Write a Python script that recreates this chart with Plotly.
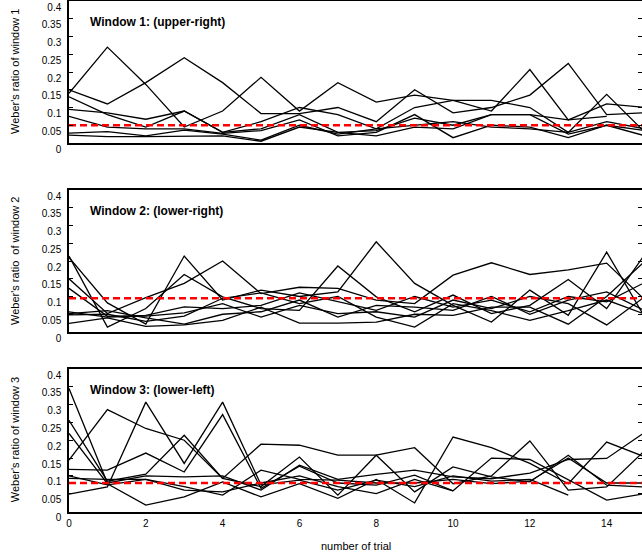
import plotly.graph_objects as go

trials = list(range(16))

# Window 1 (upper-right): Weber's ratio per subject
w1_s1 = [0.14, 0.27, 0.165, 0.045, 0.09, 0.185, 0.09, 0.17, 0.115, 0.135, 0.12, 0.09, 0.207, 0.065, 0.11, 0.1]
w1_s2 = [0.15, 0.11, 0.17, 0.24, 0.17, 0.083, 0.083, 0.1, 0.06, 0.15, 0.085, 0.1, 0.135, 0.224, 0.08, 0.085]
w1_s3 = [0.13, 0.08, 0.045, 0.09, 0.03, 0.06, 0.1, 0.08, 0.04, 0.1, 0.12, 0.12, 0.1, 0.03, 0.137, 0.03]
w1_s4 = [0.095, 0.085, 0.067, 0.09, 0.03, 0.04, 0.08, 0.03, 0.035, 0.07, 0.05, 0.08, 0.08, 0.025, 0.05, 0.02]
w1_s5 = [0.075, 0.045, 0.04, 0.04, 0.027, 0.035, 0.065, 0.02, 0.03, 0.08, 0.015, 0.05, 0.045, 0.015, 0.05, 0.035]
w1_s6 = [0.028, 0.032, 0.02, 0.036, 0.025, 0.008, 0.05, 0.025, 0.04, 0.05, 0.06, 0.045, 0.04, 0.03, 0.06, 0.04]
w1_s7 = [0.022, 0.018, 0.018, 0.02, 0.02, 0.005, 0.045, 0.03, 0.02, 0.045, 0.04, 0.08, 0.08, 0.065, 0.075, None]
w1_mean = 0.05

# Window 2 (lower-right)
w2_s1 = [0.214, 0.014, 0.066, 0.162, 0.099, 0.066, 0.061, 0.186, 0.099, 0.057, 0.104, 0.052, 0.075, 0.148, 0.066, 0.22]
w2_s2 = [0.21, 0.082, 0.022, 0.214, 0.09, 0.118, 0.1, 0.113, 0.254, 0.137, 0.075, 0.028, 0.118, 0.047, 0.225, 0.04]
w2_s3 = [0.15, 0.052, 0.097, 0.137, 0.2, 0.108, 0.126, 0.123, 0.09, 0.08, 0.16, 0.195, 0.162, 0.175, 0.194, 0.09]
w2_s4 = [0.123, 0.044, 0.047, 0.071, 0.066, 0.075, 0.11, 0.085, 0.061, 0.1, 0.07, 0.09, 0.057, 0.1, 0.085, 0.14]
w2_s5 = [0.057, 0.042, 0.045, 0.054, 0.08, 0.042, 0.075, 0.052, 0.057, 0.042, 0.09, 0.066, 0.1, 0.08, 0.02, 0.1]
w2_s6 = [0.052, 0.06, 0.04, 0.022, 0.05, 0.057, 0.09, 0.042, 0.075, 0.07, 0.061, 0.1, 0.05, 0.09, 0.113, 0.06]
w2_s7 = [0.048, 0.05, 0.03, 0.045, 0.095, 0.11, 0.08, 0.1, 0.042, 0.014, 0.08, 0.06, 0.033, 0.06, 0.09, 0.05]
w2_s8 = [0.024, 0.04, 0.016, 0.02, 0.033, 0.07, 0.025, 0.025, 0.028, 0.05, 0.047, 0.07, 0.07, 0.022, 0.1, 0.2]
w2_mean = 0.095

# Window 3 (lower-left)
w3_s1 = [0.345, 0.08, 0.1, 0.097, 0.1, 0.06, 0.13, 0.09, 0.104, 0.116, 0.097, 0.092, 0.108, 0.146, 0.149, 0.223]
w3_s2 = [0.256, 0.085, 0.105, 0.214, 0.093, 0.07, 0.153, 0.046, 0.158, 0.179, 0.078, 0.1, 0.198, 0.06, 0.069, 0.172]
w3_s3 = [0.219, 0.078, 0.018, 0.041, 0.083, 0.041, 0.078, 0.037, 0.09, 0.024, 0.209, 0.179, 0.135, 0.078, 0.195, 0.153]
w3_s4 = [0.144, 0.286, 0.233, 0.2, 0.093, 0.189, 0.186, 0.158, 0.158, 0.055, 0.125, 0.097, 0.083, 0.158, 0.074, 0.069]
w3_s5 = [0.118, 0.116, 0.164, 0.111, 0.272, 0.065, 0.127, 0.08, 0.074, 0.102, 0.058, 0.15, 0.146, 0.09, 0.032, 0.05]
w3_s6 = [0.049, 0.069, 0.307, 0.135, 0.307, 0.075, 0.088, 0.06, 0.088, 0.07, 0.1, 0.085, 0.09, 0.046, None, None]
w3_s7 = [0.1, 0.075, 0.09, 0.06, 0.055, 0.08, 0.1, 0.07, 0.05, 0.09, 0.058, None, None, None, None, None]
w3_s8 = [0.093, 0.09, 0.09, 0.07, 0.046, 0.116, 0.09, 0.088, 0.08, 0.08, 0.09, 0.078, 0.085, 0.15, 0.08, 0.08]
w3_mean = 0.08

y_tick_vals = [0, 0.05, 0.1, 0.15, 0.2, 0.25, 0.3, 0.35, 0.4]
y_tick_text = ["0", "0.05", "0.1", "0.15", "0.2", "0.25", "0.3", "0.35", "0.4"]
x_tick_vals = [0, 2, 4, 6, 8, 10, 12, 14]
x_tick_text = ["0", "2", "4", "6", "8", "10", "12", "14"]

panels = [
    ([w1_s1, w1_s2, w1_s3, w1_s4, w1_s5, w1_s6, w1_s7], w1_mean,
     "Window 1: (upper-right)", "Weber's ratio of window 1"),
    ([w2_s1, w2_s2, w2_s3, w2_s4, w2_s5, w2_s6, w2_s7, w2_s8], w2_mean,
     "Window 2: (lower-right)", "Weber's ratio  of window 2"),
    ([w3_s1, w3_s2, w3_s3, w3_s4, w3_s5, w3_s6, w3_s7, w3_s8], w3_mean,
     "Window 3: (lower-left)", "Weber's ratio of window 3"),
]

W, H = 642, 559
L = 69
plot_w = W - L
# pixel extents (top, bottom) of each panel
px_extents = [(1.0, 143), (190, 332), (369, 511.5)]
domains = [[1 - b / H, 1 - t / H] for t, b in px_extents]

FONT = "Liberation Sans, Arial, sans-serif"
fig = go.Figure()
annotations = []
layout = dict(
    template="none",
    width=W, height=H,
    margin=dict(l=L, r=0, t=0, b=0, pad=0, autoexpand=False),
    paper_bgcolor="white", plot_bgcolor="white",
    showlegend=False,
    font=dict(family=FONT, size=10, color="black"),
)

for i, (series, mean_val, title, ytitle) in enumerate(panels):
    n = i + 1
    xa = "x" if n == 1 else f"x{n}"
    ya = "y" if n == 1 else f"y{n}"
    for s in series:
        fig.add_trace(go.Scatter(x=trials, y=s, mode="lines", xaxis=xa, yaxis=ya,
                                 line=dict(color="black", width=1.3), connectgaps=False,
                                 hoverinfo="skip"))
    fig.add_trace(go.Scatter(x=[trials[0], trials[-1]], y=[mean_val, mean_val], mode="lines",
                             xaxis=xa, yaxis=ya,
                             line=dict(color="#ff0000", width=2.6, dash="7px,4px"),
                             hoverinfo="skip"))
    key_x = "xaxis" if n == 1 else f"xaxis{n}"
    key_y = "yaxis" if n == 1 else f"yaxis{n}"
    layout[key_x] = dict(
        domain=[0, 1], range=[0, 14.92], anchor=ya, automargin=False,
        showline=True, mirror=True, linecolor="black", linewidth=1.5,
        showgrid=False, zeroline=False, ticks="",
        tickvals=x_tick_vals, ticktext=x_tick_text,
        showticklabels=(n == 3), tickfont=dict(size=10, family=FONT, color="black"),
        ticklabelstandoff=2,
    )
    layout[key_y] = dict(
        domain=domains[i], range=[0, 0.4], anchor=xa, automargin=False,
        showline=True, mirror=False, linecolor="black", linewidth=1.5,
        showgrid=False, zeroline=False,
        ticks="inside", ticklen=4, tickwidth=1, tickcolor="black",
        tickvals=y_tick_vals, ticktext=y_tick_text,
        tickfont=dict(size=10, family=FONT, color="black"),
        ticklabelshift=6, ticklabelstandoff=4, ticklabeloverflow="allow",
    )
    # right-side inward ticks without a border line
    ky2 = f"yaxis{n + 3}"
    layout[ky2] = dict(
        overlaying=ya, side="right", anchor=xa, range=[0, 0.4], automargin=False,
        showline=False, showgrid=False, zeroline=False,
        ticks="inside", ticklen=4, tickwidth=1, tickcolor="black",
        tickvals=y_tick_vals, showticklabels=False,
    )
    top_px, bot_px = px_extents[i]
    annotations.append(dict(
        xref="paper", yref="paper", x=(88 - L) / plot_w, y=1 - (top_px + 21) / H,
        xanchor="left", yanchor="middle", showarrow=False, text=f"<b>{title}</b>",
        font=dict(size=12, family=FONT, color="black"),
    ))
    annotations.append(dict(
        xref="paper", yref="paper", x=(15 - L) / plot_w, y=1 - ((top_px + bot_px) / 2) / H,
        xanchor="center", yanchor="middle", showarrow=False, text=ytitle, textangle=-90,
        font=dict(size=11, family=FONT, color="black"),
    ))

annotations.append(dict(
    xref="paper", yref="paper", x=(356 - L) / plot_w, y=1 - 546 / H,
    xanchor="center", yanchor="middle", showarrow=False, text="number of trial",
    font=dict(size=11, family=FONT, color="black"),
))
layout["annotations"] = annotations
fig.update_layout(**layout)

# invisible trace on each right-side axis so it renders
for n in range(1, 4):
    xa = "x" if n == 1 else f"x{n}"
    fig.add_trace(go.Scatter(x=[0], y=[0], mode="markers", marker=dict(opacity=0),
                             xaxis=xa, yaxis=f"y{n + 3}", hoverinfo="skip"))

fig.write_html(
    "out.html",
    config={"displayModeBar": False},
    post_script="document.body.style.margin='0';document.body.style.padding='0';"
                "document.body.style.overflow='hidden';",
)
